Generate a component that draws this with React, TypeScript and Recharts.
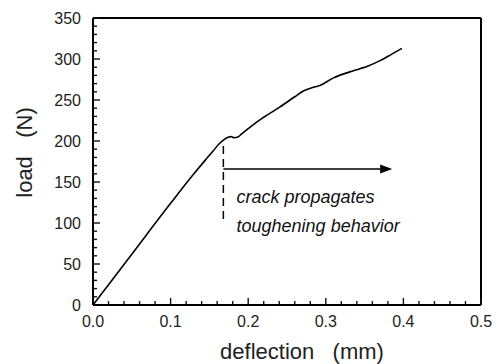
import {
	Line,
	LineChart,
	ReferenceDot,
	ReferenceLine,
	XAxis,
	YAxis,
} from "recharts";

// load-deflection curve
const deflection = [
	0, 0.05, 0.1, 0.13, 0.145, 0.155, 0.162, 0.168, 0.174, 0.178, 0.182, 0.186,
	0.192, 0.2, 0.21, 0.22, 0.24, 0.26, 0.271, 0.282, 0.293, 0.31, 0.33, 0.345,
	0.353, 0.37, 0.385, 0.398,
];
const load = [
	0, 62, 124, 160, 177, 188, 196, 201, 204.5, 205.3, 204, 204.5, 209, 215,
	222.5, 229, 241, 254, 261, 265, 268, 277, 284, 288.5, 291, 298, 306, 313,
];

const xTicks = [
	0, 0.02, 0.04, 0.06, 0.08, 0.1, 0.12, 0.14, 0.16, 0.18, 0.2, 0.22, 0.24,
	0.26, 0.28, 0.3, 0.32, 0.34, 0.36, 0.38, 0.4, 0.42, 0.44, 0.46, 0.48, 0.5,
];
const yTicks = [
	0, 10, 20, 30, 40, 50, 60, 70, 80, 90, 100, 110, 120, 130, 140, 150, 160,
	170, 180, 190, 200, 210, 220, 230, 240, 250, 260, 270, 280, 290, 300, 310,
	320, 330, 340, 350,
];

const notes = ["crack propagates", "toughening behavior"];
const noteX = 0.185;
const noteY = [124.5, 89.5];
const crackX = 0.168;
const crackRange = [105, 198];
const arrowY = 166;
const arrowEnd = 0.3855;

const data = deflection.map((d, i) => ({ d, load: load[i] }));

const FONT = "'Liberation Sans', Arial, Helvetica, sans-serif";

// inward tick lengths, in data units (about 7px major / 4px minor)
const X_MAJOR_LEN = 8.5;
const X_MINOR_LEN = 4.8;
const Y_MAJOR_LEN = 0.009;
const Y_MINOR_LEN = 0.0052;

const isMajorX = (v: number) => Math.abs(v * 10 - Math.round(v * 10)) < 1e-6;
const isMajorY = (v: number) => v % 50 === 0;

const XTick = (props: any) => {
	const { x, y, payload } = props;
	if (!isMajorX(payload.value)) return <g />;
	return (
		<text x={x} y={y + 22} textAnchor="middle" fontSize={16} fontFamily={FONT} fill="#222">
			{payload.value.toFixed(1)}
		</text>
	);
};

const YTick = (props: any) => {
	const { x, y, payload } = props;
	if (!isMajorY(payload.value)) return <g />;
	return (
		<text x={x - 12} y={y + 6} textAnchor="end" fontSize={16} fontFamily={FONT} fill="#222">
			{payload.value}
		</text>
	);
};

const XTitle = (props: any) => {
	const { viewBox } = props;
	return (
		<text
			x={viewBox.x + viewBox.width / 2 + 15}
			y={viewBox.y + 54}
			textAnchor="middle"
			fontSize={22}
			fontFamily={FONT}
			fill="#222"
			style={{ whiteSpace: "pre" }}
		>
			{"deflection   (mm)"}
		</text>
	);
};

const YTitle = () => (
	<text
		x={32}
		y={152.5}
		transform="rotate(-90 32 152.5)"
		textAnchor="middle"
		fontSize={22}
		fontFamily={FONT}
		fill="#222"
		style={{ whiteSpace: "pre" }}
	>
		{"load   (N)"}
	</text>
);

const Note = (text: string) => (props: any) => (
	<text
		x={props.cx}
		y={props.cy}
		fontSize={18}
		fontStyle="italic"
		fontFamily={FONT}
		fill="#111"
	>
		{text}
	</text>
);

const ArrowHead = (props: any) => {
	const { cx, cy } = props;
	return (
		<polygon
			points={`${cx},${cy} ${cx - 12},${cy - 4.5} ${cx - 12},${cy + 4.5}`}
			fill="#000"
		/>
	);
};

const App = () => {
	return (
		<div style={{ position: "absolute", left: 0, top: 0, background: "#fff" }}>
			<LineChart
				width={500}
				height={364}
				data={data}
				margin={{ top: 18, right: 19, bottom: 19, left: 0 }}
			>
				<XAxis
					dataKey="d"
					type="number"
					domain={[0, 0.5]}
					ticks={xTicks}
					interval={0}
					tickSize={0}
					tickMargin={0}
					tickLine={false}
					tick={<XTick />}
					height={40}
					stroke="#000"
					strokeWidth={2}
					label={<XTitle />}
				/>
				<YAxis
					type="number"
					domain={[0, 350]}
					ticks={yTicks}
					interval={0}
					tickSize={0}
					tickMargin={0}
					tickLine={false}
					tick={<YTick />}
					width={93}
					stroke="#000"
					strokeWidth={2}
					label={<YTitle />}
				/>
				<ReferenceLine y={350} stroke="#000" strokeWidth={2} />
				<ReferenceLine x={0.5} stroke="#000" strokeWidth={2} />
				{xTicks.map((v) => (
					<ReferenceLine
						key={`xt${v}`}
						segment={[
							{ x: v, y: 0 },
							{ x: v, y: isMajorX(v) ? X_MAJOR_LEN : X_MINOR_LEN },
						]}
						stroke="#111"
						strokeWidth={1.4}
					/>
				))}
				{yTicks.map((v) => (
					<ReferenceLine
						key={`yt${v}`}
						segment={[
							{ x: 0, y: v },
							{ x: isMajorY(v) ? Y_MAJOR_LEN : Y_MINOR_LEN, y: v },
						]}
						stroke="#111"
						strokeWidth={1.4}
					/>
				))}
				<ReferenceLine
					segment={[
						{ x: crackX, y: crackRange[0] },
						{ x: crackX, y: crackRange[1] },
					]}
					stroke="#000"
					strokeWidth={1.5}
					strokeDasharray="8 5"
				/>
				<ReferenceLine
					segment={[
						{ x: crackX, y: arrowY },
						{ x: arrowEnd - 0.01, y: arrowY },
					]}
					stroke="#000"
					strokeWidth={1.5}
				/>
				<ReferenceDot x={arrowEnd} y={arrowY} shape={ArrowHead} />
				{notes.map((n, i) => (
					<ReferenceDot key={n} x={noteX} y={noteY[i]} shape={Note(n)} />
				))}
				<Line
					dataKey="load"
					type="monotone"
					stroke="#000"
					strokeWidth={1.6}
					dot={false}
					isAnimationActive={false}
				/>
			</LineChart>
		</div>
	);
};

export default App;
